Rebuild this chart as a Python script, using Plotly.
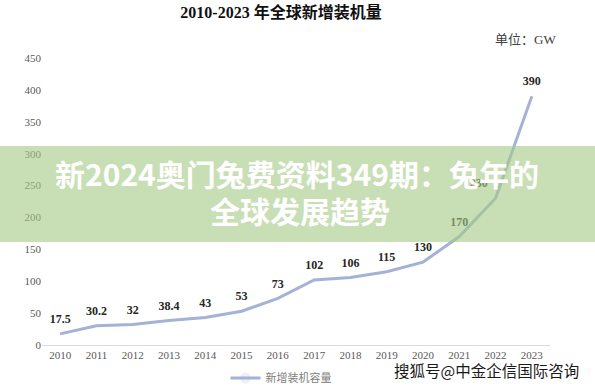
import plotly.graph_objects as go

years = ["2010", "2011", "2012", "2013", "2014", "2015", "2016",
         "2017", "2018", "2019", "2020", "2021", "2022", "2023"]
capacity = [17.5, 30.2, 32, 38.4, 43, 53, 73, 102, 106, 115, 130, 170, 230, 390]
labels = ["17.5", "30.2", "32", "38.4", "43", "53", "73",
          "102", "106", "115", "130", "170", "230", "390"]
y_ticks = [0, 50, 100, 150, 200, 250, 300, 350, 400, 450]

W, H = 595, 390
ML, MR, MT, MB = 42, 45, 58, 45
PW = W - ML - MR
PH = H - MT - MB


def px_x(x):
    return (x - ML) / PW


def px_y(y):
    return (H - MB - y) / PH


positions = ["top center"] * len(years)
positions[12] = "top left"

serif = "Liberation Serif, Times New Roman, Noto Sans CJK SC, serif"
cjk = "Noto Sans CJK SC, sans-serif"

fig = go.Figure()
fig.add_trace(go.Scatter(
    x=years, y=capacity, mode="lines+markers+text",
    name="新增装机容量",
    line=dict(color="#a3b2d6", width=3),
    marker=dict(size=11, opacity=0, color="#a3b2d6"),
    text=labels, textposition=positions,
    textfont=dict(family=serif, size=12, color="#262626", weight="bold"),
    cliponaxis=False,
    hoverinfo="skip",
))

fig.update_layout(
    width=W, height=H,
    margin=dict(l=ML, r=MR, t=MT, b=MB, autoexpand=False),
    paper_bgcolor="white", plot_bgcolor="white",
    title=dict(text="<b>2010-2023 年全球新增装机量</b>",
               x=281 / W, xanchor="center", y=1 - 12 / H, yanchor="middle",
               font=dict(family=serif, size=16, color="#111111")),
    xaxis=dict(type="category", range=[-0.5, 13.5], showline=True,
               linecolor="#d9d9d9", linewidth=1, ticks="", showgrid=False,
               tickfont=dict(family=serif, size=11, color="#595959")),
    yaxis=dict(range=[0, 450], tickvals=y_ticks, showgrid=False,
               zeroline=False, showline=False, ticks="",
               tickfont=dict(family=serif, size=11, color="#595959")),
    showlegend=True,
    legend=dict(orientation="h", x=px_x(281), xanchor="center",
                y=px_y(378), yanchor="middle",
                font=dict(family=cjk, size=11, color="#808080")),
)

fig.add_annotation(text="单位：GW", xref="paper", yref="paper",
                   x=px_x(558), xanchor="right", y=px_y(39), yanchor="middle",
                   showarrow=False,
                   font=dict(family=serif, size=13, color="#404040"))

# overlay banner
fig.add_shape(type="rect", xref="paper", yref="paper",
              x0=px_x(0), x1=px_x(W), y0=px_y(242), y1=px_y(146),
              fillcolor="rgba(166,202,134,0.62)", line=dict(width=0),
              layer="above")
fig.add_annotation(text="<b>新2024奥门兔费资料349期：兔年的</b>",
                   xref="paper", yref="paper",
                   x=px_x(297), y=px_y(173), xanchor="center", yanchor="middle",
                   showarrow=False,
                   font=dict(family=cjk, size=30, color="white"))
fig.add_annotation(text="<b>全球发展趋势</b>",
                   xref="paper", yref="paper",
                   x=px_x(300), y=px_y(210), xanchor="center", yanchor="middle",
                   showarrow=False,
                   font=dict(family=cjk, size=30, color="white"))

# watermark
fig.add_annotation(text="搜狐号@中金企信国际咨询",
                   xref="paper", yref="paper",
                   x=px_x(581), y=px_y(370), xanchor="right", yanchor="middle",
                   showarrow=False,
                   font=dict(family=cjk, size=15.5, color="#1a1a1a",
                             shadow="1px 1px 1px white"))

fig.write_html("out.html",
               config={"displayModeBar": False},
               post_script="document.body.style.margin='0';")
